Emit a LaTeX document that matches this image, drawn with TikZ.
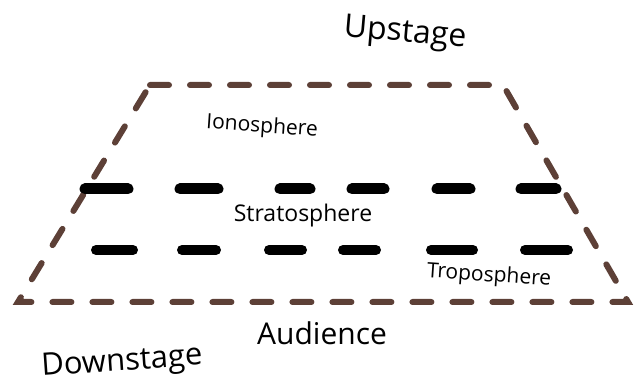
\documentclass[tikz,border=0pt]{standalone}
\usepackage{fontspec}
\setmainfont{Open Sans}
\definecolor{stagebrown}{HTML}{5D4037}
\begin{document}
\begin{tikzpicture}[x=1pt,y=-1pt,
  edge/.style={draw=stagebrown,line width=6pt,line cap=round,dash pattern=on 19pt off 21pt},
  layer/.style={draw=black,line width=11pt,line cap=round},
  lbl/.style={inner sep=0pt,text=black}]
\useasboundingbox (0,0) rectangle (641,385);
\coordinate (tl) at (150,85);
\coordinate (tr) at (503,85);
\coordinate (br) at (628,302);
\coordinate (bl) at (18,302);
\draw[edge] (tl) -- (tr) -- (br) -- (bl) -- cycle;
% upper layer boundary
\foreach \a/\b in {85/128,180/218,280/310,352/384,437/470,521/556}
  \draw[layer] (\a,189) -- (\b,189);
% lower layer boundary
\foreach \a/\b in {96/133,182/216,269/302,343/376,431/473,525/568}
  \draw[layer,line width=10pt] (\a,250) -- (\b,250);
\node[lbl,font=\fontsize{32}{36}\selectfont,rotate=-5] (up) at (405,34) {Upstage};
\node[lbl,font=\fontsize{21}{24}\selectfont,rotate=-4] (iono) at (262,127) {Ionosphere};
\node[lbl,font=\fontsize{23}{26}\selectfont] (strato) at (303,216) {Stratosphere};
\node[lbl,font=\fontsize{21}{24}\selectfont,rotate=-4] (tropo) at (489,276) {Troposphere};
\node[lbl,font=\fontsize{30}{34}\selectfont] (aud) at (322,333) {Audience};
\node[lbl,font=\fontsize{31}{35}\selectfont,rotate=4] (down) at (122,363) {Downstage};
\end{tikzpicture}
\end{document}
